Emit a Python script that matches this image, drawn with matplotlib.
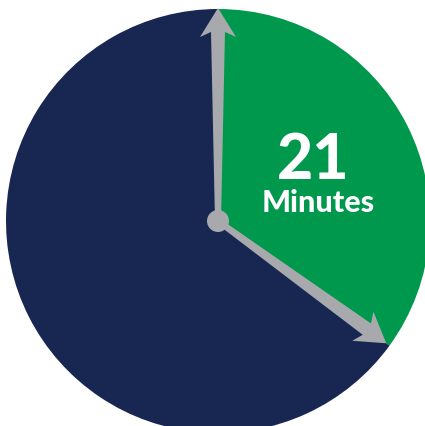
import numpy as np
import matplotlib
matplotlib.use("Agg")
import matplotlib.pyplot as plt
from matplotlib.patches import Polygon, Circle

# Data
minutes = 21
total_minutes = 60
values = [minutes, total_minutes - minutes]
labels_big = "21"
label_small = "Minutes"
colors = ["#00984C", "#172751"]
hand_color = "#A7A9AC"

fig = plt.figure(figsize=(4.25, 4.26), dpi=100)
ax = fig.add_axes([0, 0, 1, 1])

R = 212
ax.pie(values, colors=colors, startangle=90, counterclock=False,
       radius=R, center=(0, 0), frame=True,
       wedgeprops=dict(linewidth=0))
ax.set_xlim(-218, 207)
ax.set_ylim(-205, 221)
ax.set_aspect("equal")
ax.axis("off")


def hand(angle_deg_cw_from_top, tip):
    a = np.deg2rad(90 - angle_deg_cw_from_top)
    u = np.array([np.cos(a), np.sin(a)])
    n = np.array([-u[1], u[0]])
    pts = [
        0 * u + 3 * n,
        (tip - 24) * u + 7 * n,
        (tip - 29) * u + 18 * n,
        tip * u,
        (tip - 29) * u - 18 * n,
        (tip - 24) * u - 7 * n,
        0 * u - 3 * n,
    ]
    ax.add_patch(Polygon(pts, closed=True, facecolor=hand_color,
                         edgecolor="none", zorder=5))


hand(0, 213)
hand(360 * minutes / total_minutes, 208)
ax.add_patch(Circle((0, 0), 11, facecolor=hand_color, edgecolor="none", zorder=6))

ax.text(313 - 218, 221 - 161, labels_big, color="white", fontsize=45,
        fontweight="black", ha="center", va="center", family=["Lato", "DejaVu Sans"])
ax.text(318 - 218, 221 - 203, label_small, color="white", fontsize=22,
        fontweight="black", ha="center", va="center", family=["Lato", "DejaVu Sans"])

fig.savefig("out.png", dpi=100)
